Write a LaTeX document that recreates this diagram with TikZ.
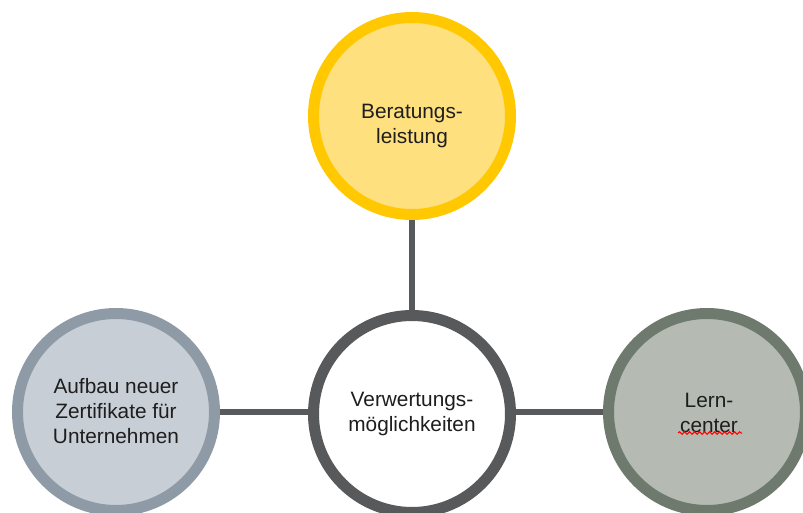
\documentclass[tikz,border=0pt]{standalone}
\usepackage{fontspec}
\setmainfont{Liberation Sans}
\usetikzlibrary{backgrounds,decorations.pathmorphing}
\definecolor{yelfill}{HTML}{FFE07F}
\definecolor{yelline}{HTML}{FFC800}
\definecolor{bluefill}{HTML}{C8CED6}
\definecolor{blueline}{HTML}{8E9AA6}
\definecolor{greenfill}{HTML}{B5BBB2}
\definecolor{greenline}{HTML}{6E7A6E}
\definecolor{darkline}{HTML}{58595B}
\definecolor{txt}{HTML}{1E1E1E}
\tikzset{
  bubble/.style={circle, draw, line width=11pt, minimum size=197pt, inner sep=0pt},
  btext/.style={align=center, text=txt, font=\fontsize{20.8}{25}\selectfont, inner sep=0pt},
  link/.style={draw=darkline, line width=6pt}
}
\begin{document}
\begin{tikzpicture}[x=1pt,y=1pt]
\clip (0,0) rectangle (803,512);
\node[bubble, draw=yelline, fill=yelfill] (top) at (412,396) {};
\node[btext] (toptext) at (412,385.5) {Beratungs-\\leistung};
\node[bubble, draw=darkline, fill=white] (mid) at (412,98) {};
\node[btext] (midtext) at (412,98) {Verwertungs-\\möglichkeiten};
\node[bubble, draw=blueline, fill=bluefill] (left) at (116,100) {};
\node[btext] (lefttext) at (116,101) {Aufbau neuer\\Zertifikate für\\Unternehmen};
\node[bubble, draw=greenline, fill=greenfill] (right) at (707,100) {};
\node[btext] (righttext) at (709,99) {Lern-\\center};
\coordinate (sq1) at (678,79);
\coordinate (sq2) at (742,79);
\draw[red, line width=1pt, decorate, decoration={snake, segment length=5pt, amplitude=1.3pt}] (sq1) -- (sq2);
\begin{scope}[on background layer]
\fill[white] (0,0) rectangle (803,512);
\draw[link] (top) -- (mid);
\draw[link] (left) -- (left -| mid);
\draw[link] (right -| mid) -- (right);
\end{scope}
\end{tikzpicture}
\end{document}
